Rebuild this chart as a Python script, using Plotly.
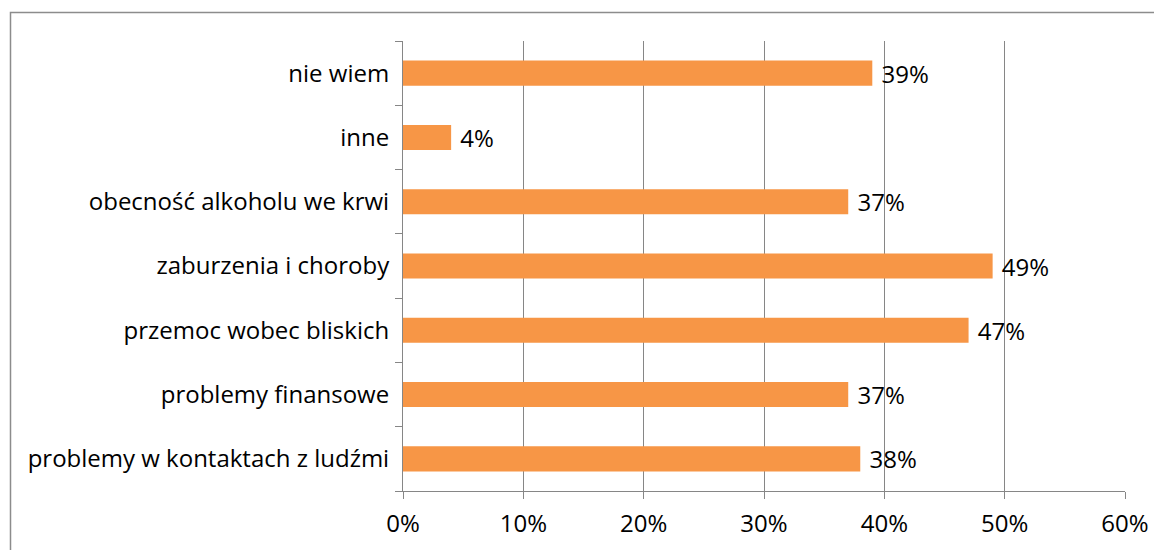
import plotly.graph_objects as go

categories = [
    'problemy w kontaktach z ludźmi',
    'problemy finansowe',
    'przemoc wobec bliskich',
    'zaburzenia i choroby',
    'obecność alkoholu we krwi',
    'inne',
    'nie wiem',
]
values = [38, 37, 47, 49, 37, 4, 39]
labels = [f' {v}%' for v in values]
x_ticks = [0, 10, 20, 30, 40, 50, 60]
x_tick_labels = [f'{t}%' for t in x_ticks]

_FONT = dict(family='Open Sans, Carlito, Calibri, sans-serif', size=24, color='#000000')
_GRID = '#868686'

# page body adds an 8px offset, so the figure is 8px smaller than the window
W, H = 1154, 542
L, R, T, B = 395, 37, 33, 59
pw, ph = W - L - R, H - T - B

bars = go.Bar(
    x=values,
    y=categories,
    orientation='h',
    marker=dict(color='#F79646', line=dict(width=0)),
    text=labels,
    textposition='outside',
    textfont=_FONT,
    constraintext='none',
    cliponaxis=False,
    width=0.39,
    hoverinfo='skip',
)

fig = go.Figure(bars)
fig.update_layout(
    width=W,
    height=H,
    margin=dict(l=L, r=R, t=T, b=B),
    paper_bgcolor='white',
    plot_bgcolor='white',
    font=_FONT,
    showlegend=False,
    xaxis=dict(
        range=[0, 60],
        tickvals=x_ticks,
        ticktext=x_tick_labels,
        showgrid=True,
        gridcolor=_GRID,
        gridwidth=1,
        zeroline=False,
        showline=True,
        linecolor=_GRID,
        linewidth=1,
        ticks='outside',
        ticklen=7,
        tickcolor=_GRID,
        tickfont=_FONT,
        ticklabelstandoff=4,
        fixedrange=True,
    ),
    yaxis=dict(
        categoryorder='array',
        categoryarray=categories,
        range=[-0.5, len(categories) - 0.5],
        showgrid=False,
        zeroline=False,
        showline=True,
        linecolor=_GRID,
        linewidth=1,
        ticks='outside',
        tickson='boundaries',
        ticklen=7,
        tickcolor=_GRID,
        tickfont=_FONT,
        ticklabelstandoff=8,
        fixedrange=True,
    ),
    shapes=[
        dict(
            type='rect',
            xref='paper', yref='paper',
            x0=(2.5 - L) / pw, x1=(1175 - L) / pw,
            y0=(H - 560 - B) / ph, y1=(H - 4.5 - B) / ph,
            line=dict(color='#8c8c8c', width=1.5),
            fillcolor='rgba(0,0,0,0)',
            layer='below',
        )
    ],
)

fig.write_html('out.html')
